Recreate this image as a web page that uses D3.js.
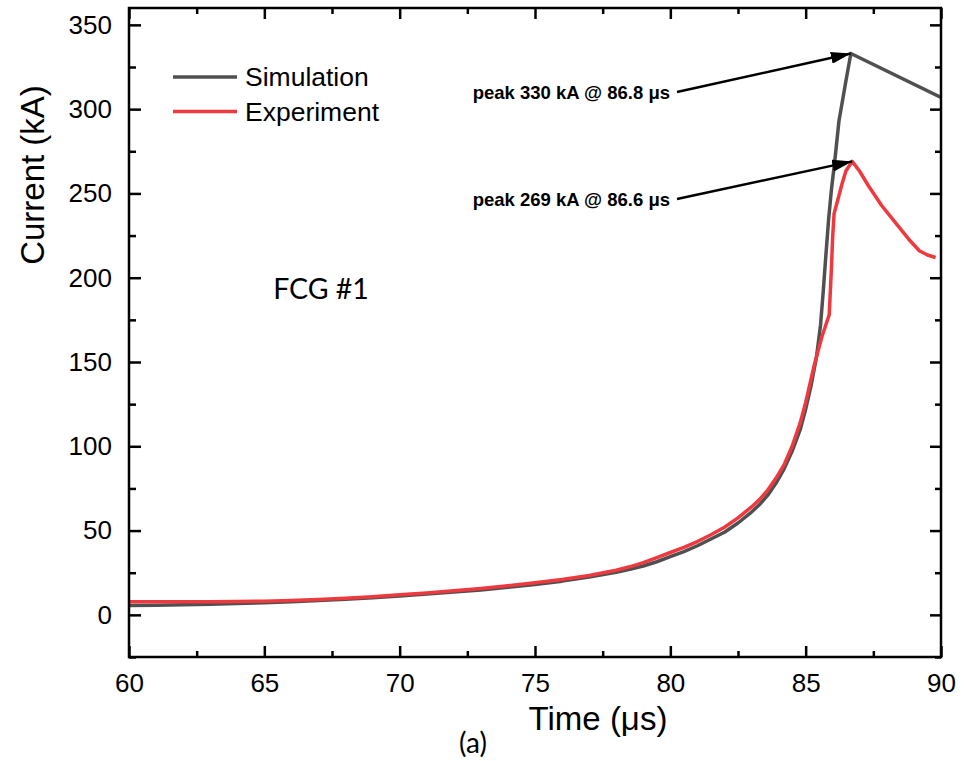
<!DOCTYPE html>
<html>
<head>
<meta charset="utf-8">
<script src="https://cdn.jsdelivr.net/npm/d3@7"></script>
<style>
  html, body { margin: 0; padding: 0; background: #fff; }
  svg { display: block; }
  text { font-family: "Liberation Sans", Arial, sans-serif; fill: #000; }
</style>
</head>
<body>
<svg id="chart" width="964" height="761"></svg>
<script>
// ---- Data ----
const simTime = [60,61,62,63,64,65,66,67,68,69,70,71,72,73,74,75,76,77,78,78.5,79,79.5,80,80.5,81,81.5,82,82.5,83,83.3,83.6,83.9,84.2,84.5,84.8,85.0,85.2,85.4,85.55,85.65,85.75,85.85,85.95,86.08,86.23,86.49,86.67,90];
const simCurrent = [5.5,5.7,6.0,6.3,6.7,7.2,7.8,8.5,9.3,10.2,11.2,12.3,13.5,14.8,16.3,18.0,20.0,22.4,25.3,27,29,31.5,34.5,37.5,41,45,49,54.5,61,65.5,71,78,86.5,97,110,122,136,153,172,192,214,235,252,270,293,317,333,307];

const expTime = [60,61,62,63,64,65,66,67,68,69,70,71,72,73,74,75,76,77,78,78.5,79,79.5,80,80.5,81,81.5,82,82.5,83,83.3,83.6,83.9,84.2,84.5,84.8,85.0,85.3,85.6,85.87,85.95,86.0,86.05,86.2,86.35,86.49,86.72,87.0,87.3,87.8,88.3,88.8,89.2,89.5,89.8];
const expCurrent = [7.8,7.8,7.8,7.8,7.9,8.1,8.5,9.1,9.9,10.8,11.9,13.0,14.3,15.7,17.3,19.0,21.0,23.4,26.5,28.5,31,34,37,40,43.5,47.5,52,57.5,64,68.5,74,81,89,100,114,126,147,165,178,205,225,238,247,256,263.5,269,263,255,243,233,223,216,213.5,212];

const xTicks = [60,65,70,75,80,85,90];
const xMinor = [62.5,67.5,72.5,77.5,82.5,87.5];
const yTicks = [0,50,100,150,200,250,300,350];
const yMinor = [-25,25,75,125,175,225,275,325];

const seriesNames = ["Simulation","Experiment"];
const seriesColors = ["#505050","#ee3a3f"];

const peaks = [
  {label:"peak 330 kA @ 86.8 \u03bcs", t:86.67, v:333},
  {label:"peak 269 kA @ 86.6 \u03bcs", t:86.72, v:269}
];

// ---- Layout ----
const svg = d3.select("#chart");
const L = 129, R = 941, T = 8, B = 657;
const x = d3.scaleLinear().domain([60,90]).range([L,R]);
const y = d3.scaleLinear().domain([-25,360]).range([B,T]);

const defs = svg.append("defs");
defs.append("clipPath").attr("id","clip").append("rect")
  .attr("x",L).attr("y",T).attr("width",R-L).attr("height",B-T);
defs.append("marker").attr("id","arrow")
  .attr("viewBox","0 0 20 12").attr("refX",20).attr("refY",6)
  .attr("markerWidth",20).attr("markerHeight",12)
  .attr("markerUnits","userSpaceOnUse").attr("orient","auto")
  .append("path").attr("d","M0,0 L20,6 L0,12 Z").attr("fill","#000");

// ---- Lines ----
const line = d3.line().x(d=>x(d[0])).y(d=>y(d[1])).curve(d3.curveLinear);
const simData = simTime.map((t,i)=>[t,simCurrent[i]]);
const expData = expTime.map((t,i)=>[t,expCurrent[i]]);

const g = svg.append("g").attr("clip-path","url(#clip)");
g.append("path").datum(simData).attr("d",line)
  .attr("fill","none").attr("stroke",seriesColors[0]).attr("stroke-width",3.5)
  .attr("stroke-linejoin","round");
g.append("path").datum(expData).attr("d",line)
  .attr("fill","none").attr("stroke",seriesColors[1]).attr("stroke-width",3.5)
  .attr("stroke-linejoin","round");

// ---- Axes ----
function styleAxis(sel){
  sel.select(".domain").remove();
  sel.selectAll(".tick line").attr("stroke","#000").attr("stroke-width",2.5);
  sel.selectAll("text").style("font-family","'Liberation Sans', Arial, sans-serif")
    .style("font-size","26px").attr("fill","#000");
}
svg.append("g").attr("transform",`translate(0,${B})`)
  .call(d3.axisBottom(x).tickValues(xTicks).tickSize(-11).tickPadding(17).tickFormat(d3.format("d")))
  .call(styleAxis);
svg.append("g").attr("transform",`translate(0,${B})`)
  .call(d3.axisBottom(x).tickValues(xMinor).tickSize(-6).tickFormat(""))
  .call(styleAxis);
svg.append("g").attr("transform",`translate(0,${T})`)
  .call(d3.axisTop(x).tickValues(xTicks).tickSize(-11).tickFormat(""))
  .call(styleAxis);
svg.append("g").attr("transform",`translate(0,${T})`)
  .call(d3.axisTop(x).tickValues(xMinor).tickSize(-6).tickFormat(""))
  .call(styleAxis);
svg.append("g").attr("transform",`translate(${L},0)`)
  .call(d3.axisLeft(y).tickValues(yTicks).tickSize(-12).tickPadding(17).tickFormat(d3.format("d")))
  .call(styleAxis);
svg.append("g").attr("transform",`translate(${L},0)`)
  .call(d3.axisLeft(y).tickValues(yMinor).tickSize(-7).tickFormat(""))
  .call(styleAxis);
svg.append("g").attr("transform",`translate(${R},0)`)
  .call(d3.axisRight(y).tickValues(yTicks).tickSize(-11).tickFormat(""))
  .call(styleAxis);
svg.append("g").attr("transform",`translate(${R},0)`)
  .call(d3.axisRight(y).tickValues(yMinor).tickSize(-6).tickFormat(""))
  .call(styleAxis);

svg.append("rect").attr("x",L).attr("y",T).attr("width",R-L).attr("height",B-T)
  .attr("fill","none").attr("stroke","#000").attr("stroke-width",2.5);

// ---- Axis titles ----
svg.append("text").attr("x",598).attr("y",730).attr("text-anchor","middle")
  .style("font-size","33px").text("Time (\u03bcs)");
svg.append("text").attr("transform","translate(44,175) rotate(-90)").attr("text-anchor","middle")
  .style("font-size","33px").text("Current (kA)");
svg.append("text").attr("x",473).attr("y",753).attr("text-anchor","middle")
  .style("font-family","Lato, 'Open Sans', sans-serif").style("font-size","28px").text("(a)");
svg.append("text").attr("x",321).attr("y",299).attr("text-anchor","middle")
  .style("font-family","Lato, 'Open Sans', sans-serif").style("font-size","28.5px").text("FCG #1");

// ---- Legend ----
const leg = svg.append("g");
seriesNames.forEach((n,i)=>{
  const yy = 77 + i*34.5;
  leg.append("line").attr("x1",173).attr("x2",237).attr("y1",yy).attr("y2",yy)
    .attr("stroke",seriesColors[i]).attr("stroke-width",3.5);
  leg.append("text").attr("x",245).attr("y",yy).attr("dy","0.35em")
    .style("font-size","26.5px").text(n);
});

// ---- Peak annotations ----
const textPos = [[670,99],[670,206]];
peaks.forEach((p,i)=>{
  svg.append("text").attr("x",textPos[i][0]).attr("y",textPos[i][1])
    .attr("text-anchor","end").style("font-size","18.5px").style("font-weight","bold")
    .text(p.label);
  svg.append("line").attr("x1",textPos[i][0]+7).attr("y1",textPos[i][1]-7)
    .attr("x2",x(p.t)).attr("y2",y(p.v))
    .attr("stroke","#000").attr("stroke-width",2.5).attr("marker-end","url(#arrow)");
});
</script>
</body>
</html>
